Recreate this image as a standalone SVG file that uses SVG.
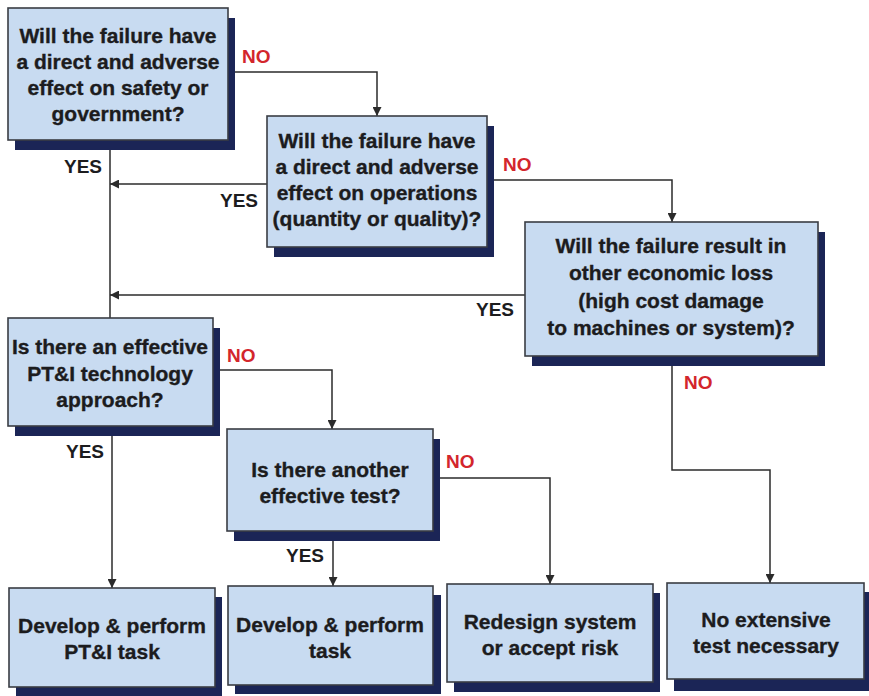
<svg xmlns="http://www.w3.org/2000/svg" width="869" height="696" viewBox="0 0 869 696">
  <defs>
    <marker id="arrow" viewBox="0 0 10 10" refX="10" refY="5" markerWidth="9" markerHeight="9" markerUnits="userSpaceOnUse" orient="auto">
      <path d="M0,0 L10,5 L0,10 z" fill="#2b2b2b"/>
    </marker>
    <style>
      .shadow { fill: #1b2556; }
      .box { fill: #c8dbf1; stroke: #3a3d44; stroke-width: 1.6; }
      .txt { font-family: "Liberation Sans", Arial, sans-serif; font-weight: bold; font-size: 21px; fill: #1c1c1e; stroke: #1c1c1e; stroke-width: 0.35; text-anchor: middle; }
      .lbl { font-family: "Liberation Sans", Arial, sans-serif; font-weight: bold; font-size: 19px; }
      .yes { fill: #1c1c1e; }
      .no { fill: #d3262c; }
      .conn { fill: none; stroke: #2b2b2b; stroke-width: 1.5; }
    </style>
  </defs>
  <rect width="869" height="696" fill="#ffffff"/>

  <!-- connectors -->
  <g id="connectors">
    <path class="conn" d="M235,72 H377 V116" marker-end="url(#arrow)"/>
    <path class="conn" d="M110,150 V318"/>
    <path class="conn" d="M267,184 H110" marker-end="url(#arrow)"/>
    <path class="conn" d="M494,180 H672 V222" marker-end="url(#arrow)"/>
    <path class="conn" d="M525,295 H110" marker-end="url(#arrow)"/>
    <path class="conn" d="M672,366 V470 H770 V583" marker-end="url(#arrow)"/>
    <path class="conn" d="M220,370 H332 V429" marker-end="url(#arrow)"/>
    <path class="conn" d="M112,436 V588" marker-end="url(#arrow)"/>
    <path class="conn" d="M333,541 V586" marker-end="url(#arrow)"/>
    <path class="conn" d="M440,478 H550 V584" marker-end="url(#arrow)"/>

    <text class="lbl no" x="242" y="63">NO</text>
    <text class="lbl yes" x="64" y="173">YES</text>
    <text class="lbl no" x="503" y="171">NO</text>
    <text class="lbl yes" x="220" y="207">YES</text>
    <text class="lbl yes" x="476" y="316">YES</text>
    <text class="lbl no" x="684" y="389">NO</text>
    <text class="lbl no" x="227" y="362">NO</text>
    <text class="lbl yes" x="66" y="458">YES</text>
    <text class="lbl no" x="446" y="468">NO</text>
    <text class="lbl yes" x="286" y="562">YES</text>
  </g>

  <!-- decision: safety -->
  <g id="q-safety">
    <rect class="shadow" x="15" y="18" width="220" height="132"/>
    <rect class="box" x="8" y="8" width="220" height="132"/>
    <text class="txt" x="118" y="43">Will the failure have</text>
    <text class="txt" x="118" y="69">a direct and adverse</text>
    <text class="txt" x="118" y="95">effect on safety or</text>
    <text class="txt" x="118" y="121">government?</text>
  </g>

  <!-- decision: operations -->
  <g id="q-operations">
    <rect class="shadow" x="274" y="126" width="220" height="131"/>
    <rect class="box" x="267" y="116" width="220" height="131"/>
    <text class="txt" x="377" y="148">Will the failure have</text>
    <text class="txt" x="377" y="174">a direct and adverse</text>
    <text class="txt" x="377" y="200">effect on operations</text>
    <text class="txt" x="377" y="226">(quantity or quality)?</text>
  </g>

  <!-- decision: economic loss -->
  <g id="q-economic">
    <rect class="shadow" x="532" y="232" width="293" height="134"/>
    <rect class="box" x="525" y="222" width="293" height="134"/>
    <text class="txt" x="671" y="253">Will the failure result in</text>
    <text class="txt" x="671" y="280">other economic loss</text>
    <text class="txt" x="671" y="308">(high cost damage</text>
    <text class="txt" x="671" y="335">to machines or system)?</text>
  </g>

  <!-- decision: PT&I technology -->
  <g id="q-ptandi">
    <rect class="shadow" x="15" y="328" width="205" height="108"/>
    <rect class="box" x="8" y="318" width="205" height="108"/>
    <text class="txt" x="110" y="354">Is there an effective</text>
    <text class="txt" x="110" y="381">PT&amp;I technology</text>
    <text class="txt" x="110" y="407">approach?</text>
  </g>

  <!-- decision: other test -->
  <g id="q-othertest">
    <rect class="shadow" x="234" y="439" width="206" height="102"/>
    <rect class="box" x="227" y="429" width="206" height="102"/>
    <text class="txt" x="330" y="477">Is there another</text>
    <text class="txt" x="330" y="503">effective test?</text>
  </g>

  <!-- outcomes -->
  <g id="r-ptandi-task">
    <rect class="shadow" x="16" y="597" width="206" height="99"/>
    <rect class="box" x="9" y="588" width="206" height="99"/>
    <text class="txt" x="112" y="633">Develop &amp; perform</text>
    <text class="txt" x="112" y="659">PT&amp;I task</text>
  </g>

  <g id="r-task">
    <rect class="shadow" x="235" y="595" width="206" height="99"/>
    <rect class="box" x="228" y="586" width="205" height="99"/>
    <text class="txt" x="330" y="632">Develop &amp; perform</text>
    <text class="txt" x="330" y="658">task</text>
  </g>

  <g id="r-redesign">
    <rect class="shadow" x="454" y="593" width="206" height="99"/>
    <rect class="box" x="447" y="584" width="206" height="98"/>
    <text class="txt" x="550" y="629">Redesign system</text>
    <text class="txt" x="550" y="655">or accept risk</text>
  </g>

  <g id="r-no-test">
    <rect class="shadow" x="674" y="592" width="205" height="99"/>
    <rect class="box" x="667" y="583" width="197" height="96"/>
    <text class="txt" x="766" y="627">No extensive</text>
    <text class="txt" x="766" y="653">test necessary</text>
  </g>
</svg>
